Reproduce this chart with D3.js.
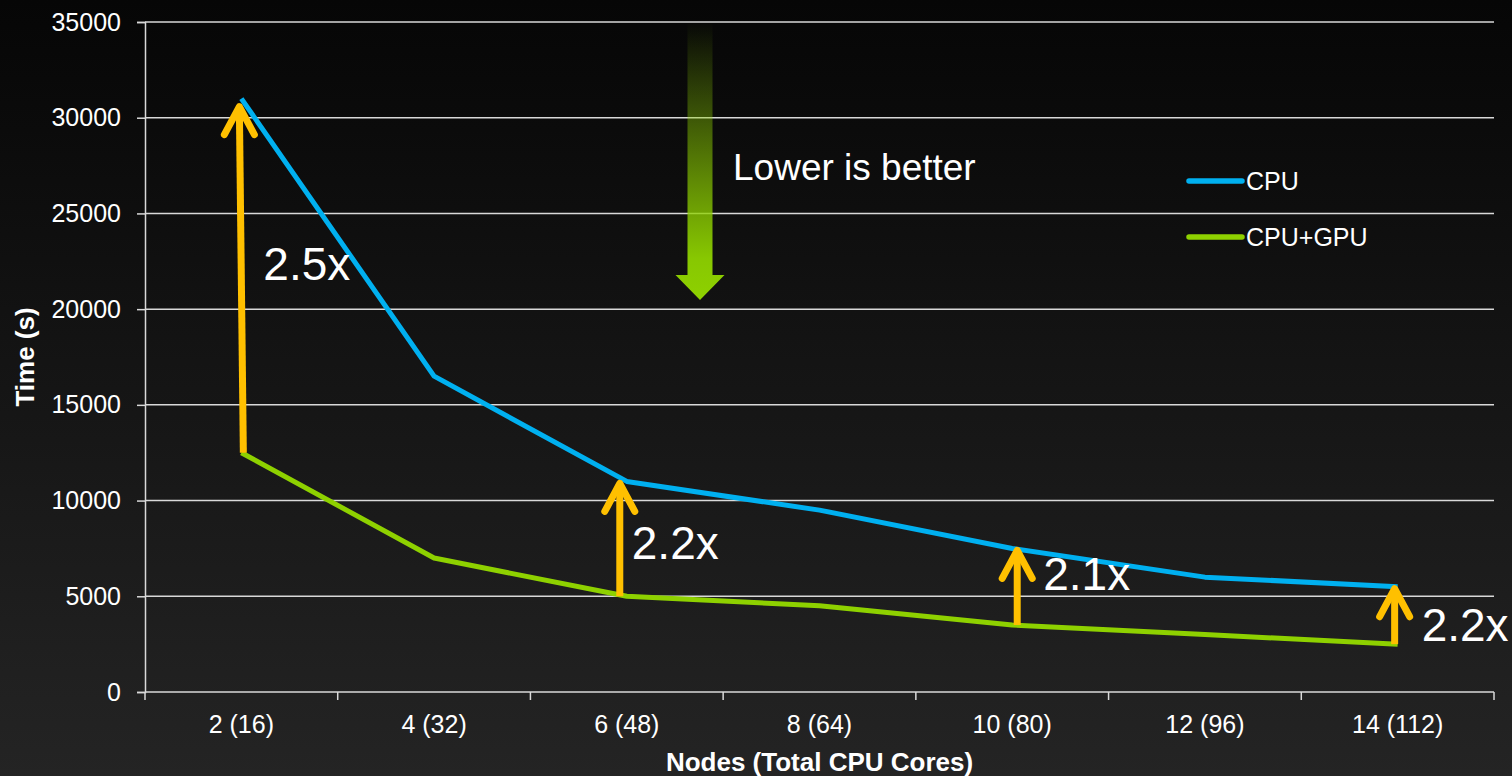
<!DOCTYPE html>
<html>
<head>
<meta charset="utf-8">
<script src="https://cdn.jsdelivr.net/npm/d3@7"></script>
<style>
  html, body { margin: 0; padding: 0; background: #111; }
  svg { display: block; font-family: "Liberation Sans", Arial, sans-serif; }
</style>
</head>
<body>
<div id="chart"></div>
<script>
const categories = ['2 (16)', '4 (32)', '6 (48)', '8 (64)', '10 (80)', '12 (96)', '14 (112)'];
const cpuTimes = [31000, 16500, 11000, 9500, 7500, 6000, 5500];
const gpuTimes = [12500, 7000, 5000, 4500, 3500, 3000, 2500];
const yTicks = [0, 5000, 10000, 15000, 20000, 25000, 30000, 35000];
const speedupCats = ['2 (16)', '6 (48)', '10 (80)', '14 (112)'];
const speedupLabels = ['2.5x', '2.2x', '2.1x', '2.2x'];

const width = 1512, height = 776;
const margin = { top: 22, right: 18, bottom: 84, left: 145 };
const w = width - margin.left - margin.right;
const h = height - margin.top - margin.bottom;

const svg = d3.select('#chart').append('svg')
  .attr('width', width)
  .attr('height', height);

const defs = svg.append('defs');
const bg = defs.append('linearGradient')
  .attr('id', 'bg').attr('x1', 0).attr('y1', 0).attr('x2', 0).attr('y2', 1);
bg.append('stop').attr('offset', '0%').attr('stop-color', '#060606');
bg.append('stop').attr('offset', '100%').attr('stop-color', '#242424');

const ga = defs.append('linearGradient')
  .attr('id', 'greenArrow').attr('x1', 0).attr('y1', 0).attr('x2', 0).attr('y2', 1);
ga.append('stop').attr('offset', '0%').attr('stop-color', '#8ed100').attr('stop-opacity', 0);
ga.append('stop').attr('offset', '85%').attr('stop-color', '#8ed100').attr('stop-opacity', 0.95);
ga.append('stop').attr('offset', '100%').attr('stop-color', '#8ed100').attr('stop-opacity', 1);

svg.append('rect').attr('width', width).attr('height', height).attr('fill', 'url(#bg)');

const g = svg.append('g').attr('transform', `translate(${margin.left},${margin.top})`);

const x = d3.scaleBand().domain(categories).range([0, w]);
const y = d3.scaleLinear().domain([0, 35000]).range([h, 0]);
const cx = c => x(c) + x.bandwidth() / 2;

// gridlines
g.selectAll('line.grid')
  .data(yTicks.filter(d => d > 0))
  .join('line')
  .attr('class', 'grid')
  .attr('x1', 0).attr('x2', w)
  .attr('y1', d => y(d)).attr('y2', d => y(d))
  .attr('stroke', '#d9d9d9').attr('stroke-width', 1.5);

// y axis
const yAxis = g.append('g')
  .call(d3.axisLeft(y).tickValues(yTicks).tickSize(8).tickPadding(16).tickFormat(d3.format('d')));
yAxis.select('.domain').attr('stroke', '#d9d9d9').attr('stroke-width', 1.5);
yAxis.selectAll('.tick line').attr('stroke', '#d9d9d9').attr('stroke-width', 1.5);
yAxis.selectAll('.tick text').attr('fill', '#fff').attr('font-size', 25)
  .attr('font-family', '"Liberation Sans", Arial, sans-serif');

// x axis with ticks at band boundaries
const xAxis = g.append('g').attr('transform', `translate(0,${h})`);
xAxis.append('line').attr('x1', 0).attr('x2', w).attr('y1', 0).attr('y2', 0)
  .attr('stroke', '#d9d9d9').attr('stroke-width', 1.5);
xAxis.selectAll('line.xtick')
  .data(categories.map(c => x(c)).concat([w]))
  .join('line')
  .attr('class', 'xtick')
  .attr('x1', d => d).attr('x2', d => d)
  .attr('y1', 0).attr('y2', 8)
  .attr('stroke', '#d9d9d9').attr('stroke-width', 1.5);
xAxis.selectAll('text.xlab')
  .data(categories)
  .join('text')
  .attr('class', 'xlab')
  .attr('x', d => cx(d))
  .attr('y', 41)
  .attr('text-anchor', 'middle')
  .attr('fill', '#fff').attr('font-size', 25)
  .text(d => d);

// axis titles
svg.append('text')
  .attr('transform', `translate(34,${margin.top + h / 2}) rotate(-90)`)
  .attr('text-anchor', 'middle')
  .attr('fill', '#fff').attr('font-size', 26).attr('font-weight', 'bold')
  .text('Time (s)');
svg.append('text')
  .attr('x', margin.left + w / 2).attr('y', 771)
  .attr('text-anchor', 'middle')
  .attr('fill', '#fff').attr('font-size', 26).attr('font-weight', 'bold')
  .text('Nodes (Total CPU Cores)');

// "Lower is better" arrow
const arrowX = 700 - margin.left;
const shaftHalf = 12.5, headHalf = 24.5;
const arrowTop = 0, headStart = 253, tip = 278;
g.append('path')
  .attr('d', `M${arrowX - shaftHalf},${arrowTop} L${arrowX + shaftHalf},${arrowTop} L${arrowX + shaftHalf},${headStart} L${arrowX + headHalf},${headStart} L${arrowX},${tip} L${arrowX - headHalf},${headStart} L${arrowX - shaftHalf},${headStart} Z`)
  .attr('fill', 'url(#greenArrow)');
svg.append('text')
  .attr('x', 733).attr('y', 180)
  .attr('fill', '#fff').attr('font-size', 37)
  .text('Lower is better');

// series lines
const line = d3.line().x((d, i) => cx(categories[i])).y(d => y(d));
g.append('path').datum(gpuTimes).attr('d', line)
  .attr('fill', 'none').attr('stroke', '#8ed100').attr('stroke-width', 5).attr('stroke-linejoin', 'round');
g.append('path').datum(cpuTimes).attr('d', line)
  .attr('fill', 'none').attr('stroke', '#00b0f0').attr('stroke-width', 5).attr('stroke-linejoin', 'round');

// speedup arrows (small hand-placed x nudges as in the slide)
const arrowNudge = [-2, -7, 5, -3];
speedupCats.forEach((c, k) => {
  const i = categories.indexOf(c);
  const xx = cx(c) + arrowNudge[k];
  const yBottom = y(gpuTimes[i]);
  const yTip = y(cpuTimes[i]) + (k === 0 ? 6 : 0);
  const a = g.append('g');
  a.append('line')
    .attr('x1', xx + (k === 0 ? 4 : 0)).attr('x2', xx)
    .attr('y1', yBottom).attr('y2', yTip + 4)
    .attr('stroke', '#ffc000').attr('stroke-width', 7);
  a.append('path')
    .attr('d', `M${xx - 15},${yTip + 30} L${xx},${yTip + 2} L${xx + 15},${yTip + 30}`)
    .attr('fill', 'none').attr('stroke', '#ffc000').attr('stroke-width', 7)
    .attr('stroke-linecap', 'round').attr('stroke-linejoin', 'round');
});

// speedup labels
const labelDx = [22, 5, 31, 24];
const labelAt = [21500, 6950, 5330, 2660];
g.selectAll('text.speedLabel')
  .data(speedupLabels)
  .join('text')
  .attr('class', 'speedLabel')
  .attr('x', (d, k) => cx(speedupCats[k]) + labelDx[k])
  .attr('y', (d, k) => y(labelAt[k]))
  .attr('fill', '#fff').attr('font-size', 46)
  .text(d => d);

// legend
const legendNames = ['CPU', 'CPU+GPU'];
const legendColors = ['#00b0f0', '#8ed100'];
const legend = svg.append('g').attr('transform', 'translate(1189,181)');
const li = legend.selectAll('g').data(legendNames).join('g')
  .attr('transform', (d, i) => `translate(0,${i * 56})`);
li.append('line').attr('x1', 0).attr('x2', 53).attr('y1', 0).attr('y2', 0)
  .attr('stroke', (d, i) => legendColors[i]).attr('stroke-width', 5.5).attr('stroke-linecap', 'round');
li.append('text').attr('x', 57).attr('y', 9)
  .attr('fill', '#fff').attr('font-size', 25)
  .text(d => d);
</script>
</body>
</html>
